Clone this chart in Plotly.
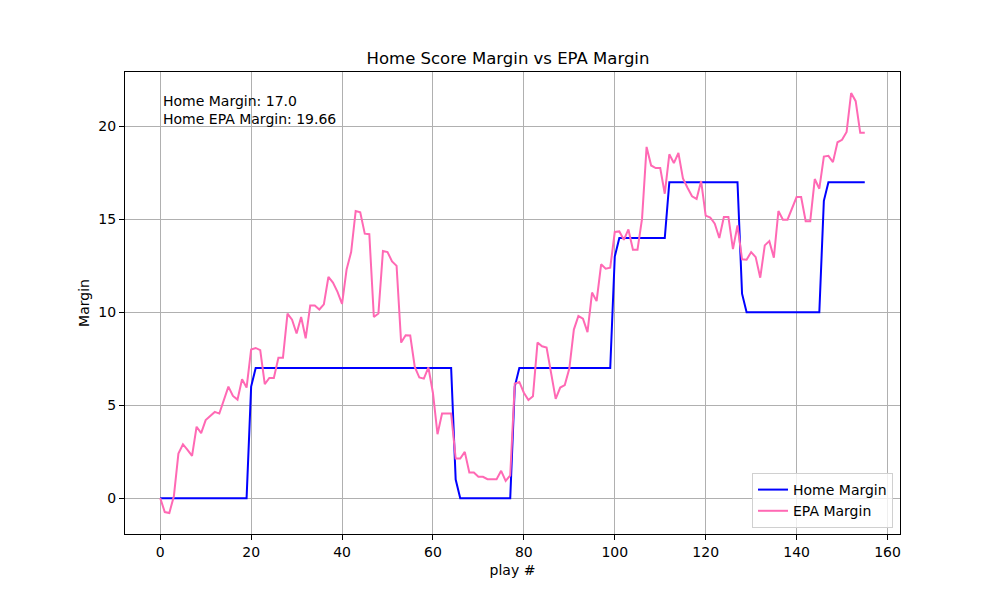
import plotly.graph_objects as go

# play-by-play margins (home team perspective)
plays = list(range(156))

home_margin = (
    [0] * 20 + [6] + [7] * 44 + [1] + [0] * 12 + [6] + [7] * 21 + [13]
    + [14] * 11 + [17] * 16 + [11] + [10] * 17 + [16] + [17] * 9
)

epa_margin = [
    0.0, -0.75, -0.8, 0.1, 2.4, 2.9, 2.6, 2.27, 3.84, 3.5,
    4.2, 4.4, 4.64, 4.55, 5.27, 6.0, 5.5, 5.3, 6.4, 5.95,
    8.0, 8.08, 7.96, 6.13, 6.47, 6.47, 7.55, 7.55, 9.93, 9.6,
    8.86, 9.75, 8.6, 10.36, 10.36, 10.15, 10.43, 11.9, 11.6, 11.1,
    10.45, 12.3, 13.24, 15.45, 15.38, 14.23, 14.2, 9.75, 9.93, 13.3,
    13.24, 12.74, 12.5, 8.37, 8.76, 8.75, 7.06, 6.49, 6.43, 7.03,
    5.66, 3.44, 4.55, 4.55, 4.55, 2.13, 2.13, 2.49, 1.38, 1.38,
    1.15, 1.15, 1.02, 1.02, 1.02, 1.47, 0.93, 1.22, 6.16, 6.25,
    5.67, 5.28, 5.48, 8.37, 8.17, 8.1, 6.8, 5.34, 5.95, 6.08,
    6.97, 9.07, 9.8, 9.66, 8.93, 11.06, 10.6, 12.58, 12.35, 12.4,
    14.32, 14.35, 13.9, 14.46, 13.37, 13.37, 15.04, 18.9, 17.9, 17.76,
    17.76, 16.38, 18.5, 18.03, 18.57, 17.2, 16.7, 16.24, 16.1, 17.06,
    15.2, 15.1, 14.77, 14.0, 15.13, 15.13, 13.4, 14.68, 12.85, 12.83,
    13.24, 12.97, 11.86, 13.6, 13.83, 12.94, 15.45, 14.98, 14.98, 15.57,
    16.2, 16.2, 14.9, 14.9, 17.17, 16.65, 18.38, 18.42, 18.08, 19.15,
    19.28, 19.7, 21.8, 21.36, 19.66, 19.66,
]

x_ticks = [0, 20, 40, 60, 80, 100, 120, 140, 160]
y_ticks = [0, 5, 10, 15, 20]

font_family = "DejaVu Sans"

home_line = go.Scatter(
    x=plays,
    y=home_margin,
    name='Home Margin',
    mode='lines',
    line=dict(color='blue', width=2),
)

epa_line = go.Scatter(
    x=plays,
    y=epa_margin,
    name='EPA Margin',
    mode='lines',
    line=dict(color='#ff69b4', width=2),
)

fig = go.Figure(data=[home_line, epa_line])

axis_style = dict(
    showgrid=True,
    gridcolor='#b0b0b0',
    gridwidth=1,
    showline=True,
    linecolor='black',
    linewidth=1,
    mirror=True,
    ticks='outside',
    ticklen=5,
    tickcolor='black',
    zeroline=False,
    tickfont=dict(size=14, color='black'),
)

# page body adds ~8px offset, so margins are shifted up/left by that much
fig.update_layout(
    width=1000,
    height=600,
    paper_bgcolor='white',
    plot_bgcolor='white',
    font=dict(family=font_family, color='black'),
    margin=dict(l=117, r=108, t=64, b=74),
    title=dict(
        text='Home Score Margin vs EPA Margin',
        x=0.5, xanchor='center',
        y=0.916, yanchor='middle',
        font=dict(size=16.5, color='black'),
    ),
    xaxis=dict(
        axis_style,
        range=[-7.75, 162.75],
        tickvals=x_ticks,
        title=dict(text='play #', font=dict(size=14), standoff=6),
    ),
    yaxis=dict(
        axis_style,
        range=[-1.93, 22.93],
        tickvals=y_ticks,
        title=dict(text='Margin', font=dict(size=14), standoff=5),
    ),
    legend=dict(
        x=0.991, y=0.013,
        xanchor='right', yanchor='bottom',
        bgcolor='rgba(255,255,255,0.8)',
        bordercolor='#d0d0d0',
        borderwidth=1,
        font=dict(size=14),
    ),
    showlegend=True,
)

fig.add_annotation(
    xref='paper', yref='paper',
    x=0.047, y=0.958,
    xanchor='left', yanchor='top',
    align='left',
    showarrow=False,
    text='Home Margin: 17.0<br>Home EPA Margin: 19.66',
    font=dict(size=14, color='black'),
)

fig.write_html("out.html")
